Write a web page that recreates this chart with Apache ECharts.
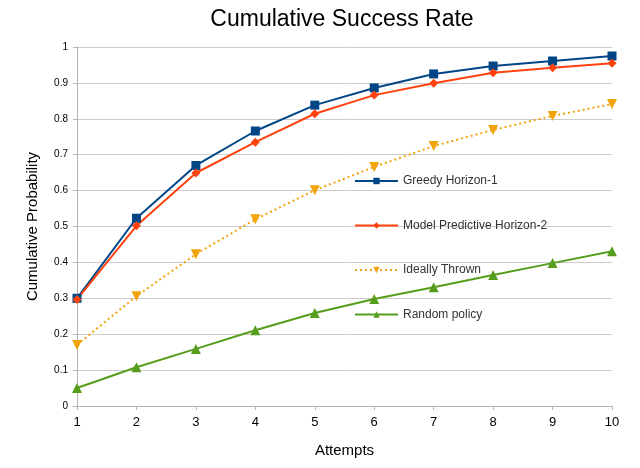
<!DOCTYPE html>
<html><head><meta charset="utf-8">
<script src="https://cdn.jsdelivr.net/npm/echarts@6/dist/echarts.min.js"></script>
<style>html,body{margin:0;padding:0;background:#fff}#c{width:640px;height:468px}</style>
</head><body><div id="c"></div>
<script>
const attempts = ['1','2','3','4','5','6','7','8','9','10'];
const greedy = [0.300, 0.523, 0.670, 0.766, 0.838, 0.886, 0.925, 0.947, 0.961, 0.975];
const mpc = [0.297, 0.502, 0.649, 0.735, 0.814, 0.866, 0.899, 0.928, 0.942, 0.955];
const ideal = [0.170, 0.306, 0.423, 0.520, 0.601, 0.666, 0.724, 0.769, 0.808, 0.841];
const randomPolicy = [0.050, 0.108, 0.159, 0.211, 0.259, 0.298, 0.331, 0.365, 0.398, 0.431];
const names = ['Greedy Horizon-1', 'Model Predictive Horizon-2', 'Ideally Thrown', 'Random policy'];

const chart = echarts.init(document.getElementById('c'), null, {renderer:'canvas'});
const font = 'Liberation Sans';
chart.setOption({
  animation: false,
  title: {text: 'Cumulative Success Rate', left: 337, top: 3, textAlign: 'center',
    textStyle: {fontFamily: font, fontSize: 23, fontWeight: 'normal', color: '#000'}},
  grid: {left: 77, right: 28, top: 47, bottom: 62, containLabel: false},
  legend: {
    orient: 'vertical', left: 354, top: 175, padding: 0, itemGap: 32.5, itemWidth: 43, itemHeight: 8,
    textStyle: {fontFamily: font, fontSize: 12, color: '#333'},
    data: names
  },
  xAxis: {
    type: 'category', data: attempts, boundaryGap: false,
    name: 'Attempts', nameLocation: 'middle', nameGap: 37,
    nameTextStyle: {fontFamily: font, fontSize: 15, color: '#000'},
    axisLine: {lineStyle: {color: '#b3b3b3'}},
    axisTick: {show: true, alignWithLabel: true, length: 4, lineStyle: {color: '#b3b3b3'}},
    axisLabel: {fontFamily: font, fontSize: 13, color: '#000', margin: 10},
    splitLine: {show: false}
  },
  yAxis: {
    type: 'value', min: 0, max: 1, interval: 0.1,
    name: 'Cumulative Probability', nameLocation: 'middle', nameGap: 37,
    nameTextStyle: {fontFamily: font, fontSize: 15, color: '#000'},
    axisLine: {show: true, lineStyle: {color: '#b3b3b3'}},
    axisTick: {show: true, length: 4, lineStyle: {color: '#b3b3b3'}},
    axisLabel: {fontFamily: font, fontSize: 10, color: '#000', margin: 9},
    splitLine: {lineStyle: {color: '#cccccc'}}
  },
  series: [
    {name: names[0], type: 'line', data: greedy, symbol: 'rect', symbolSize: 9,
      itemStyle: {color: '#004586'}, lineStyle: {width: 2, color: '#004586'}},
    {name: names[1], type: 'line', data: mpc, symbol: 'diamond', symbolSize: 9,
      itemStyle: {color: '#ff420e'}, lineStyle: {width: 2, color: '#ff420e'}},
    {name: names[2], type: 'line', data: ideal, symbol: 'triangle', symbolRotate: 180, symbolSize: 10,
      itemStyle: {color: '#f0a30a'}, lineStyle: {width: 2, color: '#f0a30a', type: [2, 3]}},
    {name: names[3], type: 'line', data: randomPolicy, symbol: 'triangle', symbolSize: 10,
      itemStyle: {color: '#579d1c'}, lineStyle: {width: 2, color: '#579d1c'}}
  ]
});
</script></body></html>
